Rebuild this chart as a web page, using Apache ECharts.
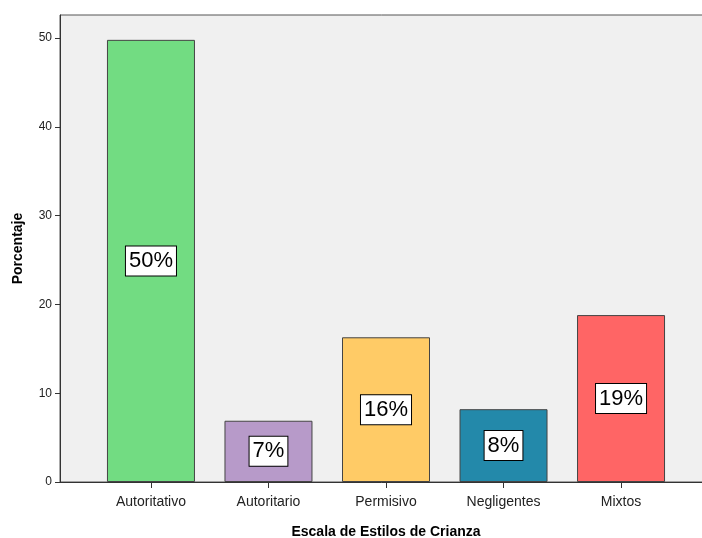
<!DOCTYPE html>
<html lang="es">
<head>
    <meta charset="UTF-8">
    <title>Escala de Estilos de Crianza</title>
    <script src="https://cdn.jsdelivr.net/npm/echarts@6/dist/echarts.min.js"></script>
    <style>
        html, body { margin: 0; padding: 0; background: #fff; }
    </style>
</head>
<body>
<div id="main" style="width: 702px;height:538px;"></div>
<script type="text/javascript">
    // datos del gráfico
    var categorias = ['Autoritativo', 'Autoritario', 'Permisivo', 'Negligentes', 'Mixtos'];
    var porcentajes = [49.8, 6.9, 16.3, 8.2, 18.8];
    var colores = ['#72dc82', '#b79ac9', '#ffcb66', '#2389aa', '#ff6565'];

    var posiciones = categorias.map(function (c, i) { return i + 1; });

    var datos = porcentajes.map(function (v, i) {
        return {
            value: [i + 1, v],
            itemStyle: { color: colores[i] }
        };
    });

    var myChart = echarts.init(document.getElementById('main'));

    var option = {
        animation: false,
        textStyle: { fontFamily: 'Liberation Sans, Arial, sans-serif' },
        grid: {
            left: 60, top: 15, right: -10, bottom: 56,
            outerBoundsMode: 'none',
            containLabel: false,
            show: true,
            backgroundColor: '#f0f0f0',
            borderColor: '#555',
            borderWidth: 1
        },
        xAxis: {
            type: 'value',
            min: 0.226,
            max: 5.774,
            name: 'Escala de Estilos de Crianza',
            nameLocation: 'middle',
            nameGap: 43,
            nameTextStyle: { fontSize: 14, fontWeight: 'bold', color: '#000' },
            axisLine: { show: true, lineStyle: { color: '#333', width: 1 } },
            axisTick: { show: true, length: 6, customValues: posiciones, lineStyle: { color: '#333' } },
            axisLabel: {
                customValues: posiciones,
                fontSize: 14,
                color: '#222',
                margin: 13,
                formatter: function (v) { return categorias[Math.round(v) - 1] || ''; }
            },
            splitLine: { show: false }
        },
        yAxis: {
            type: 'value',
            min: 0,
            max: 52.6,
            interval: 10,
            name: 'Porcentaje',
            nameLocation: 'middle',
            nameGap: 35,
            nameTextStyle: { fontSize: 14, fontWeight: 'bold', color: '#000' },
            axisLine: { show: true, lineStyle: { color: '#333', width: 1 } },
            axisTick: { show: true, length: 5, lineStyle: { color: '#333' } },
            axisLabel: { fontSize: 12, color: '#222', margin: 8, showMaxLabel: false },
            splitLine: { show: false }
        },
        series: [
            {
                type: 'bar',
                data: datos,
                barWidth: 88,
                itemStyle: { borderColor: '#444', borderWidth: 1 },
                label: {
                    show: true,
                    position: 'inside',
                    fontSize: 22,
                    color: '#000',
                    backgroundColor: '#fff',
                    borderColor: '#000',
                    borderWidth: 1,
                    padding: [4, 3, 3, 3],
                    formatter: function (p) { return Math.round(p.value[1]) + '%'; }
                }
            }
        ]
    };

    myChart.setOption(option);
</script>
</body>
</html>
